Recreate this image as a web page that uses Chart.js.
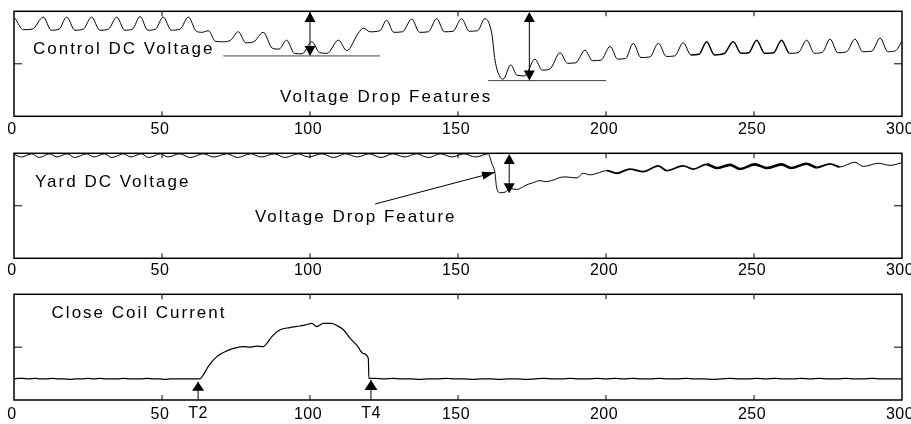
<!DOCTYPE html>
<html><head><meta charset="utf-8">
<script src="https://cdn.jsdelivr.net/npm/chart.js@4.4.1/dist/chart.umd.min.js"></script>
<style>
html,body{margin:0;padding:0;background:#fff;overflow:hidden;}
.p{position:relative;width:911px;}
canvas{display:block;}
</style></head><body>
<div class="p" style="height:140px"><canvas id="c1"></canvas></div>
<div class="p" style="height:140px"><canvas id="c2"></canvas></div>
<div class="p" style="height:144px"><canvas id="c3"></canvas></div>
<script>
// ---- data ----
const xTickValues = [0, 50, 100, 150, 200, 250, 300];
const yTickValues = [0, 1, 2];
const tMarkLabels = ['T2', 'T4'];
const tMarkTimes = [62.2, 120.6];

const ctrlTime = [0.3,3.2,6.2,9.9,12.6,15.2,17.8,20.6,23.4,26.2,29.0,31.9,34.7,37.4,40.0,42.6,45.2,47.8,50.4,53.2,56.1,58.9,61.6,63.5,65.7,68.0,70.5,73.2,75.8,78.3,81.0,84.2,87.2,89.5,92.1,94.7,97.3,100.6,103.3,105.8,109.6,112.4,116.3,118.0,120.3,123.6,125.9,128.3,131.2,134.4,137.0,140.0,142.8,145.4,148.3,151.2,153.8,156.6,159.1,161.4,162.5,164.2,165.3,167.8,170.0,172.5,176.0,178.4,181.0,184.5,187.0,189.8,192.9,195.4,198.3,201.4,203.9,206.6,209.2,211.8,214.8,217.7,220.4,223.2,226.1,228.7,231.4,234.0,236.6,239.8,243.0,245.6,248.2,250.9,253.6,256.6,259.3,262.0,264.9,267.8,270.4,273.1,275.7,278.3,281.3,284.1,286.7,289.8,292.6,295.2,297.8,299.9];
const ctrlVolt = [1.87,1.65,1.66,1.89,1.64,1.66,1.89,1.64,1.66,1.89,1.64,1.66,1.89,1.64,1.66,1.90,1.64,1.66,1.89,1.64,1.66,1.89,1.62,1.60,1.63,1.43,1.42,1.45,1.61,1.40,1.42,1.60,1.30,1.28,1.45,1.20,1.19,1.42,1.21,1.20,1.45,1.25,1.58,1.68,1.61,1.63,1.83,1.60,1.61,1.85,1.60,1.61,1.86,1.61,1.62,1.86,1.62,1.63,1.86,1.58,1.07,0.75,0.71,0.98,0.78,0.77,1.09,0.88,0.90,1.21,1.01,1.02,1.26,1.06,1.07,1.33,1.09,1.10,1.39,1.12,1.13,1.39,1.14,1.15,1.40,1.17,1.18,1.42,1.17,1.19,1.42,1.20,1.21,1.45,1.20,1.21,1.45,1.20,1.21,1.45,1.20,1.22,1.47,1.21,1.23,1.47,1.23,1.24,1.49,1.23,1.25,1.42];

const yardTime = [0,2.5,6,8.5,12,14.5,18,20.5,24.5,27,30.5,33,37,39.5,43,45.5,49.5,52,56,59.5,64,67.5,72,75.5,80,83.5,88,91.5,96,99.5,104,108,112,116,120,124,128,132,136,140,144,148,152,156,160.2,161.4,162.5,163.0,164.2,165.9,167.6,169.8,171.0,173.2,175.4,177.7,179.5,182.2,184.5,186.5,190.1,192.3,194.6,197.0,200.2,203.6,208.1,212.6,217.7,220.5,226.1,229.5,234.0,237.4,241.9,245.3,250.3,254.3,259.3,262.5,267.8,271.2,275.7,279.0,284.1,286.9,292.0,296.0,299.9];
const yardVolt = [1.98,1.93,1.99,1.92,1.99,1.93,1.99,1.92,1.99,1.93,1.99,1.92,1.99,1.93,1.99,1.92,1.99,1.93,1.99,1.92,1.99,1.93,1.99,1.92,1.99,1.93,1.99,1.92,1.99,1.93,1.99,1.92,1.99,1.93,1.99,1.92,1.99,1.93,1.99,1.92,1.99,1.93,1.99,1.93,1.99,1.81,1.62,1.36,1.25,1.26,1.33,1.31,1.33,1.40,1.44,1.48,1.46,1.49,1.54,1.55,1.53,1.62,1.59,1.62,1.67,1.62,1.70,1.65,1.76,1.67,1.76,1.70,1.79,1.72,1.78,1.70,1.79,1.72,1.79,1.72,1.80,1.73,1.80,1.74,1.83,1.75,1.81,1.77,1.82];

const coilTime = [0,1.5,3,5,7,9,11,13,15,17,19,21,23,25,27,29,31,33,35,37,39,41,43,45,47,49,51,53,55,57,59,61,62.8,63.9,65.6,68.5,71.9,75.2,77.5,79.7,82.0,84.2,85.4,87.1,89.9,93.2,96.6,98.5,100.6,102.3,104.5,107.3,109.0,111.3,113.5,115.8,118.0,119.7,119.9,122,125,128,131,134,137,140,143,146,149,152,155,158,161,164,167,170,173,176,179,182,185,188,191,194,197,200,203,206,209,212,215,218,221,224,227,230,233,236,239,242,245,248,251,254,257,260,263,266,269,272,275,278,281,284,287,290,293,296,300];
const coilCurr = [0.40,0.41,0.41,0.40,0.41,0.40,0.40,0.41,0.40,0.40,0.39,0.40,0.40,0.41,0.40,0.41,0.40,0.40,0.40,0.41,0.40,0.40,0.40,0.41,0.40,0.40,0.39,0.40,0.40,0.40,0.40,0.40,0.40,0.47,0.63,0.82,0.93,0.99,1.01,1.00,1.02,1.01,1.07,1.20,1.33,1.37,1.40,1.42,1.45,1.39,1.45,1.45,1.41,1.33,1.17,1.04,0.88,0.79,0.41,0.41,0.40,0.41,0.40,0.40,0.39,0.40,0.40,0.41,0.40,0.40,0.39,0.40,0.40,0.39,0.40,0.40,0.39,0.40,0.41,0.40,0.40,0.41,0.40,0.40,0.41,0.40,0.41,0.40,0.41,0.40,0.40,0.41,0.40,0.40,0.41,0.40,0.40,0.39,0.40,0.41,0.40,0.40,0.41,0.40,0.41,0.40,0.40,0.41,0.40,0.41,0.40,0.40,0.41,0.40,0.40,0.41,0.40,0.40,0.40];

// ---- annotation layout (data coordinates) ----
const FONT = '"Liberation Sans", Arial, sans-serif';
const panels = [
  { id: 'c1', time: ctrlTime, vals: ctrlVolt, top: 11.3, axisH: 23.7, tickPad: 3.9,
    thick: (x) => (x > 228 && x < 262) ? 1.5 : 1,
    texts: [ {t: 'Control DC Voltage', x: 6.4, y: 1.196}, {t: 'Voltage Drop Features', x: 89.9, y: 0.278} ],
    hlines: [ {x0: 70.7, x1: 123.6, y: 1.15}, {x0: 160.2, x1: 200, y: 0.68} ],
    darrows: [ {x: 100, y0: 1.985, y1: 1.15}, {x: 174.1, y0: 1.985, y1: 0.68} ],
    arrows: [], marks: false },
  { id: 'c2', time: yardTime, vals: yardVolt, top: 13.3, axisH: 21.7, tickPad: 2.3,
    thick: (x) => (x > 230 && x < 268) ? 2.6 : ((x > 200 && x < 276) ? 1.8 : 1),
    texts: [ {t: 'Yard DC Voltage', x: 7.1, y: 1.364}, {t: 'Voltage Drop Feature', x: 81.4, y: 0.697} ],
    hlines: [],
    darrows: [ {x: 167.3, y0: 1.985, y1: 1.24} ],
    arrows: [ {x0: 122, y0: 1.034, x1: 162.5, y1: 1.638, len: 13, hw: 4} ],
    marks: false },
  { id: 'c3', time: coilTime, vals: coilCurr, top: 14.3, axisH: 24, tickPad: 4.9,
    thick: () => 1.2,
    texts: [ {t: 'Close Coil Current', x: 12.7, y: 1.546} ],
    hlines: [], darrows: [],
    arrows: [ {x0: tMarkTimes[0], y0: 0, x1: tMarkTimes[0], y1: 0.346, len: 9, hw: 6},
              {x0: tMarkTimes[1], y0: 0, x1: tMarkTimes[1], y1: 0.378, len: 10, hw: 6.5} ],
    marks: true }
];

function head(ctx, fx, fy, tx, ty, len, hw) {
  const dx = tx - fx, dy = ty - fy, d = Math.hypot(dx, dy) || 1;
  const ux = dx / d, uy = dy / d;
  const bx = tx - ux * len, by = ty - uy * len;
  ctx.beginPath();
  ctx.moveTo(tx, ty);
  ctx.lineTo(bx - uy * hw, by + ux * hw);
  ctx.lineTo(bx + uy * hw, by - ux * hw);
  ctx.closePath();
  ctx.fill();
}

function makeChart(p) {
  const pts = p.time.map((t, i) => ({x: t, y: p.vals[i]}));
  const decor = {
    id: 'decor' + p.id,
    beforeDraw(chart) { chart.ctx.letterSpacing = '0.5px'; },
    afterDatasetsDraw(chart) {
      const ctx = chart.ctx, a = chart.chartArea, xs = chart.scales.x, ys = chart.scales.y;
      ctx.save();
      ctx.strokeStyle = '#000'; ctx.fillStyle = '#000';
      ctx.lineWidth = 1.5;
      ctx.strokeRect(a.left, a.top, a.right - a.left, a.bottom - a.top);
      ctx.lineWidth = 1;
      ctx.beginPath();
      xTickValues.forEach(v => {
        if (v <= xs.min || v >= xs.max) return;
        const px = xs.getPixelForValue(v);
        ctx.moveTo(px, a.top); ctx.lineTo(px, a.top + 5);
        ctx.moveTo(px, a.bottom); ctx.lineTo(px, a.bottom - 5);
      });
      yTickValues.forEach(v => {
        if (v <= ys.min || v >= ys.max) return;
        const py = ys.getPixelForValue(v);
        ctx.moveTo(a.left, py); ctx.lineTo(a.left + 8, py);
        ctx.moveTo(a.right, py); ctx.lineTo(a.right - 8, py);
      });
      ctx.stroke();
      ctx.strokeStyle = '#444'; ctx.lineWidth = 1;
      p.hlines.forEach(h => {
        const py = ys.getPixelForValue(h.y);
        ctx.beginPath(); ctx.moveTo(xs.getPixelForValue(h.x0), py); ctx.lineTo(xs.getPixelForValue(h.x1), py); ctx.stroke();
      });
      ctx.strokeStyle = '#000';
      p.darrows.forEach(d => {
        const px = xs.getPixelForValue(d.x), p0 = ys.getPixelForValue(d.y0), p1 = ys.getPixelForValue(d.y1);
        ctx.beginPath(); ctx.moveTo(px, p0 + 6); ctx.lineTo(px, p1 - 6); ctx.stroke();
        head(ctx, px, p1, px, p0, 10, 5.5);
        head(ctx, px, p0, px, p1, 10, 5.5);
      });
      p.arrows.forEach(r => {
        const x0 = xs.getPixelForValue(r.x0), y0 = ys.getPixelForValue(r.y0);
        const x1 = xs.getPixelForValue(r.x1), y1 = ys.getPixelForValue(r.y1);
        ctx.beginPath(); ctx.moveTo(x0, y0); ctx.lineTo(x1, y1); ctx.stroke();
        head(ctx, x0, y0, x1, y1, r.len, r.hw);
      });
      ctx.font = '17px ' + FONT;
      ctx.letterSpacing = '2px';
      ctx.textAlign = 'left'; ctx.textBaseline = 'alphabetic';
      p.texts.forEach(t => ctx.fillText(t.t, xs.getPixelForValue(t.x), ys.getPixelForValue(t.y)));
      if (p.marks) {
        ctx.font = '16px ' + FONT;
        ctx.letterSpacing = '0.5px';
        ctx.textAlign = 'center'; ctx.textBaseline = 'middle';
        tMarkLabels.forEach((lab, i) => ctx.fillText(lab, xs.getPixelForValue(tMarkTimes[i]), a.bottom + p.tickPad + 9.6 - 1));
      }
      ctx.restore();
    }
  };
  return new Chart(document.getElementById(p.id), {
    type: 'line',
    data: { datasets: [{ data: pts, borderColor: '#000', borderWidth: 1, pointRadius: 0,
      cubicInterpolationMode: 'monotone', fill: false,
      segment: { borderWidth: (c) => p.thick(c.p0.parsed.x) } }] },
    options: {
      responsive: true, maintainAspectRatio: false, animation: false, devicePixelRatio: 1,
      layout: { padding: { left: 14, right: 9, top: p.top, bottom: 0 } },
      plugins: { legend: { display: false }, tooltip: { enabled: false } },
      events: [],
      scales: {
        x: { type: 'linear', min: 0, max: 300,
          afterBuildTicks: (s) => { s.ticks = xTickValues.map(v => ({value: v})); },
          afterFit: (s) => { s.height = p.axisH; s.paddingLeft = 0; s.paddingRight = 0; },
          grid: { display: false, drawTicks: false }, border: { display: false },
          ticks: { color: '#000', font: { family: FONT, size: 16 }, padding: p.tickPad,
            maxRotation: 0, autoSkip: false, labelOffset: -2 } },
        y: { type: 'linear', min: 0, max: 2, display: false,
          afterBuildTicks: (s) => { s.ticks = yTickValues.map(v => ({value: v})); } }
      }
    },
    plugins: [decor]
  });
}
panels.forEach(makeChart);
</script>
</body></html>
